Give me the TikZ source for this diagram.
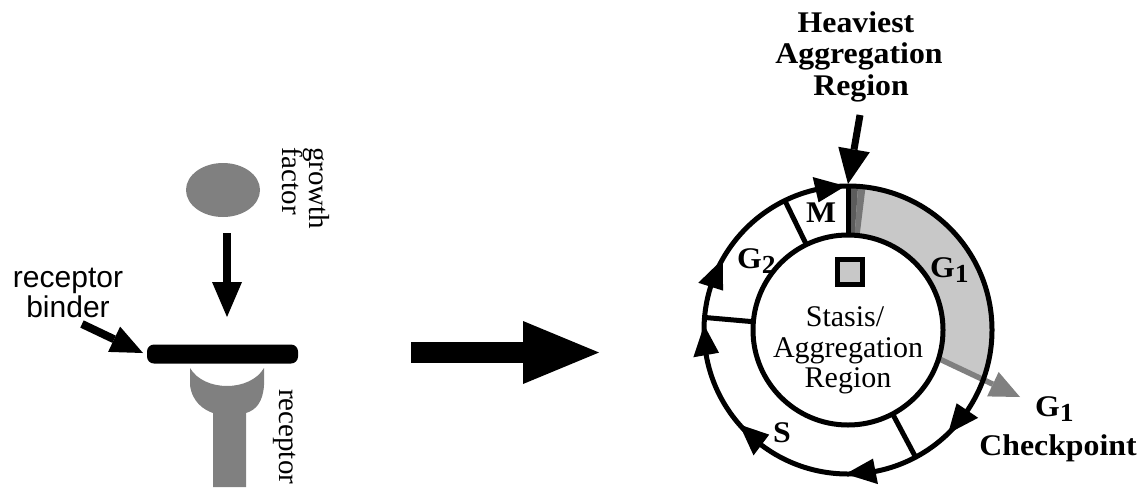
\documentclass[tikz,border=0pt]{standalone}
\usepackage{fontspec}
\setmainfont{Liberation Serif}
\newfontfamily\bw{Liberation Serif}[FakeStretch=1.06]
\newfontfamily\helv{Liberation Sans}
\usetikzlibrary{arrows.meta,shapes.geometric}
\definecolor{midgray}{RGB}{128,128,128}
\definecolor{sectorgray}{RGB}{200,200,200}
\definecolor{stripdark}{RGB}{92,92,92}
\definecolor{stripmid}{RGB}{118,118,118}
\newcommand\Gsubs[1]{G\raisebox{-5pt}{\fontsize{26}{26}\selectfont #1}}
\tikzset{
  boldlbl/.style={inner sep=0pt, font=\bw\bfseries\fontsize{30}{31}\selectfont},
  serlbl/.style={inner sep=0pt, font=\fontsize{30}{31}\selectfont},
  rotlbl/.style={inner sep=0pt, font=\fontsize{29}{30}\selectfont},
  sanslbl/.style={inner sep=0pt, font=\helv\fontsize{30}{30}\selectfont},
  ring/.style={line width=5pt},
  fatarrow/.style n args={4}{line width=#1pt, -{Triangle[length=#2pt, width=#3pt, line width=0pt]}, draw=#4}
}
\begin{document}
\begin{tikzpicture}[x=1pt, y=-1pt]
\useasboundingbox (0,0) rectangle (1147,493);

% ---------- left part ----------
\node[ellipse, fill=midgray, minimum width=74pt, minimum height=54pt, inner sep=0pt] (gf) at (223,190) {};
\node[rotlbl, rotate=-90, anchor=base west] (growth) at (309,147) {growth};
\node[rotlbl, rotate=-90, anchor=base west] (factor) at (282,147) {factor};

\coordinate (gfa) at (227,233);
\coordinate (gfb) at (227,317);
\draw[fatarrow={8}{35}{30}{black}] (gfa) -- (gfb);

\node[fill=black, rounded corners=7pt, minimum width=151pt, minimum height=19pt, inner sep=0pt] (bar) at (222.5,354) {};

\fill[midgray] (190,368) -- (190,385) .. controls (192,402) and (204,410) .. (213,413)
  -- (213,487) -- (246,487) -- (246,413) .. controls (256,410) and (263,402) .. (264,385)
  -- (264,368) .. controls (250,392) and (204,392) .. cycle;
\node[rotlbl, rotate=-90, anchor=base west] (receptor) at (279,389) {receptor};

\node[sanslbl, anchor=base] (rb1) at (68,287) {receptor};
\node[sanslbl, anchor=base] (rb2) at (68,317) {binder};
\coordinate (rba) at (82,324);
\coordinate (rbb) at (143,353);
\draw[fatarrow={8}{32}{28}{black}] (rba) -- (rbb);

% ---------- middle arrow ----------
\coordinate (ma) at (411,352.5);
\coordinate (mb) at (599,352.5);
\draw[fatarrow={21}{76}{63}{black}] (ma) -- (mb);

% ---------- cell cycle ----------
\begin{scope}[shift={(848,330)}, yscale=-1]
  \fill[sectorgray] (90:95) arc[start angle=90, end angle=-17.5, radius=95]
     -- (-20:144) arc[start angle=-20, end angle=90, radius=144] -- cycle;
  \fill[stripdark] (90:95) arc[start angle=90, end angle=86, radius=95]
     -- (86:144) arc[start angle=86, end angle=90, radius=144] -- cycle;
  \fill[stripmid] (86:95) arc[start angle=86, end angle=83, radius=95]
     -- (83:144) arc[start angle=83, end angle=86, radius=144] -- cycle;
  \coordinate (cka) at (-17.5:95);
  \coordinate (ckb) at (172,-67);
  \draw[fatarrow={5.5}{30}{27}{midgray}] (cka) -- (ckb);
  \coordinate (cc) at (0,0);
  \draw[ring] (cc) circle[radius=144];
  \draw[ring] (cc) circle[radius=95];
  \foreach \a in {90,116,175,-62} {
    \draw[ring] (\a:95) -- (\a:144);
  }
  \foreach \t in {91,-46,-91,-139,178,150.5} {
    \fill (\t:144) -- ({\t+12}:157) -- ({\t+12}:131) -- cycle;
  }
  \coordinate (top) at (90:146);
\end{scope}

\node[draw=black, line width=5pt, fill=sectorgray, minimum size=25pt, inner sep=0pt] (sq) at (850,272) {};

\node[serlbl, anchor=base] (st1) at (845,326) {Stasis/};
\node[serlbl, anchor=base] (st2) at (848,357) {Aggregation};
\node[serlbl, anchor=base] (st3) at (848,387) {Region};

\node[boldlbl, anchor=base] (m) at (821,222) {M};
\node[boldlbl, anchor=base west] (g2) at (737,268) {\Gsubs{2}};
\node[boldlbl, anchor=base west] (g1) at (930,277) {\Gsubs{1}};
\node[boldlbl, anchor=base west] (s) at (773,442) {S};

\node[boldlbl, anchor=base] (h1) at (856,32) {Heaviest};
\node[boldlbl, anchor=base] (h2) at (859,63.5) {Aggregation};
\node[boldlbl, anchor=base] (h3) at (861,95) {Region};
\coordinate (ha) at (860,115);
\draw[fatarrow={7}{35}{32}{black}] (ha) -- (top);

\node[boldlbl, anchor=base west] (ck1) at (1035,416) {\Gsubs{1}};
\node[boldlbl, anchor=base] (ck2) at (1058,455) {Checkpoint};
\end{tikzpicture}
\end{document}
